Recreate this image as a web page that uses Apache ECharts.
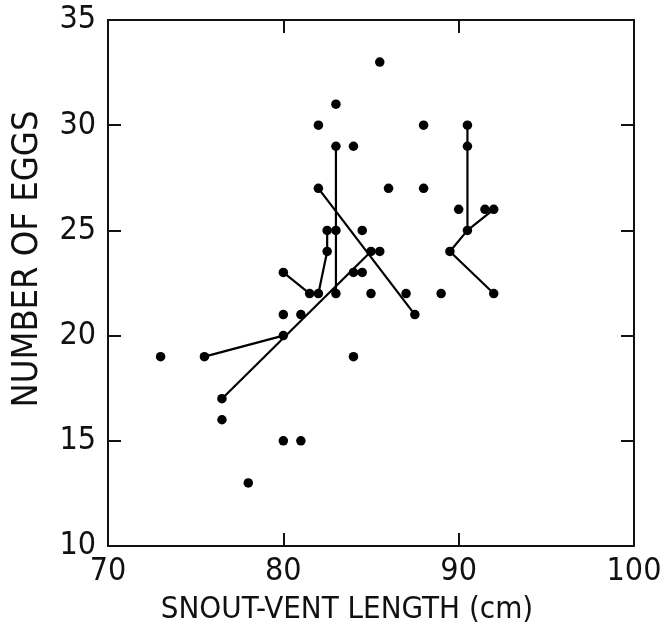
<!DOCTYPE html>
<html>
<head>
    <meta charset="utf-8" />
    <title>Number of eggs vs snout-vent length</title>
    <script src="https://cdn.jsdelivr.net/npm/echarts@6/dist/echarts.min.js"></script>
    <style type="text/css">
        html,
        body {
            width: 100%;
            height: 100%;
            margin: 0;
            background: #fff;
        }

        #main {
            width: 671px;
            height: 630px;
        }
    </style>
</head>

<body>
    <div id="main"></div>
    <script>
        // snout-vent length (cm) / number of eggs for each female
        var svl = [73, 75.5, 76.5, 76.5, 78, 80, 80, 80, 80, 81, 81, 81.5, 82, 82, 82, 82.5, 82.5, 83, 83, 83, 83,
            84, 84, 84, 84.5, 84.5, 85, 85, 85.5, 85.5, 86, 87, 87.5, 88, 88, 89, 89.5, 90, 90.5, 90.5, 90.5,
            91.5, 92, 92];
        var eggs = [19, 19, 17, 16, 13, 23, 21, 20, 15, 21, 15, 22, 22, 27, 30, 25, 24, 31, 29, 25, 22,
            29, 23, 19, 25, 23, 24, 22, 24, 33, 27, 22, 21, 30, 27, 22, 24, 26, 30, 29, 25,
            26, 26, 22];

        // repeated measurements of the same animal, joined by lines
        var track1 = [[75.5, 19], [80, 20]];
        var track2 = [[76.5, 17], [85, 24]];
        var track3 = [[80, 23], [81.5, 22]];
        var track4 = [[82.5, 25], [82.5, 24], [82, 22]];
        var track5 = [[83, 29], [83, 22]];
        var track6 = [[82, 27], [87.5, 21]];
        var track7 = [[90.5, 30], [90.5, 25]];
        var track8 = [[92, 26], [90.5, 25], [89.5, 24], [92, 22]];
        var tracks = [track1, track2, track3, track4, track5, track6, track7, track8];

        var myChart = echarts.init(document.getElementById('main'));

        var font = '"Liberation Sans Narrow", "DejaVu Sans Condensed", "Liberation Sans", sans-serif';
        var axisBase = {
            type: 'value',
            splitLine: { show: false },
            axisLine: { show: true, lineStyle: { color: '#111', width: 2 } },
            axisTick: { show: true, inside: true, length: 13, lineStyle: { color: '#111', width: 2 } }
        };

        var series = [];
        tracks.forEach(function (t) {
            series.push({
                type: 'line',
                data: t,
                symbol: 'none',
                silent: true,
                lineStyle: { color: '#000', width: 2.2 },
                z: 2
            });
        });
        series.push({
            type: 'scatter',
            data: svl.map(function (v, i) { return [v, eggs[i]]; }),
            symbolSize: 9.5,
            itemStyle: { color: '#000', opacity: 1 },
            z: 3
        });

        option = {
            animation: false,
            backgroundColor: '#fff',
            grid: { left: 108, right: 37, top: 20, bottom: 84 },
            xAxis: [Object.assign({}, axisBase, {
                min: 70, max: 100, interval: 10,
                name: 'SNOUT-VENT LENGTH (cm)',
                nameLocation: 'middle',
                nameGap: 48,
                nameTextStyle: { fontFamily: font, fontSize: 31, color: '#111', padding: [0, 48, 0, 0] },
                axisLabel: { fontFamily: font, fontSize: 32, color: '#111', margin: 10 }
            }), Object.assign({}, axisBase, {
                position: 'top',
                min: 70, max: 100, interval: 10,
                axisLabel: { show: false }
            })],
            yAxis: [Object.assign({}, axisBase, {
                min: 10, max: 35, interval: 5,
                name: 'NUMBER OF EGGS',
                nameLocation: 'middle',
                nameGap: 62,
                nameTextStyle: { fontFamily: font, fontSize: 36, color: '#111', padding: [0, 0, 0, 48] },
                axisLabel: { fontFamily: font, fontSize: 32, color: '#111', margin: 12 }
            }), Object.assign({}, axisBase, {
                position: 'right',
                min: 10, max: 35, interval: 5,
                axisLabel: { show: false }
            })],
            series: series
        };

        myChart.setOption(option);
    </script>
</body>
</html>
